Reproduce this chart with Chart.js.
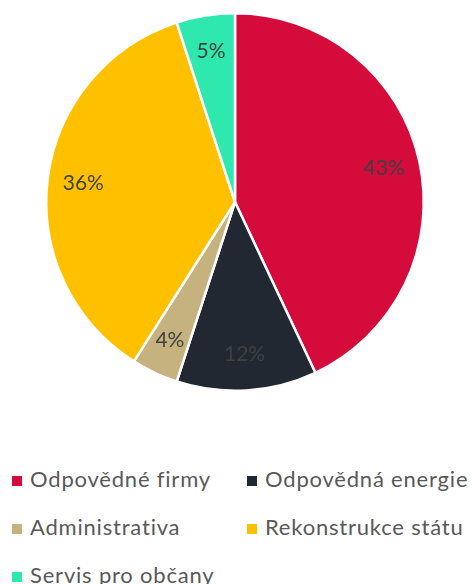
<!DOCTYPE html>
<html>
<head>
<meta charset="utf-8">
<script src="https://cdn.jsdelivr.net/npm/chart.js@4/dist/chart.umd.min.js"></script>
<style>
    body { margin: 0; background: #ffffff; width: 473px; height: 584px; overflow: hidden; position: relative; font-family: Lato, "Open Sans", sans-serif; }
    #wrap { position: absolute; left: 0; top: 0; width: 470px; height: 392px; }
    #legend { position: absolute; left: 12px; top: 464px; width: 461px; }
    .item { position: absolute; height: 30px; line-height: 30px; font-size: 22px; letter-spacing: 0.8px; color: #595959; white-space: nowrap; }
    .box { display: inline-block; width: 10px; height: 10px; margin-right: 8px; vertical-align: 1px; }
</style>
</head>
<body>
<div id="wrap"><canvas id="ChartCanvas"></canvas></div>
<div id="legend"></div>
<script>
const labels = ['Odpovědné firmy', 'Odpovědná energie', 'Administrativa', 'Rekonstrukce státu', 'Servis pro občany'];
const values = [43, 12, 4, 36, 5];
const colors = ['#D50B3C', '#222831', '#C5B27E', '#FFC000', '#2EE8AD'];

Initialize();

function Initialize()
{
    const ctx = document.getElementById('ChartCanvas').getContext('2d');

    // Percent labels inside the slices
    const sliceLabels =
    {
        id: 'sliceLabels',
        afterDatasetsDraw(chart)
        {
            const c = chart.ctx;
            const total = values.reduce((a, b) => a + b, 0);
            c.save();
            c.font = '21px Lato, "Open Sans", sans-serif';
            c.fillStyle = '#404040';
            c.textAlign = 'center';
            c.textBaseline = 'middle';
            chart.getDatasetMeta(0).data.forEach((arc, i) =>
            {
                const mid = (arc.startAngle + arc.endAngle) / 2;
                const r = arc.outerRadius * 0.81;
                const pct = Math.round(values[i] / total * 100) + '%';
                c.fillText(pct, arc.x + Math.cos(mid) * r, arc.y + Math.sin(mid) * r);
            });
            c.restore();
        }
    };

    new Chart(ctx,
    {
        type: 'pie',
        data:
        {
            labels: labels,
            datasets:
            [
                {
                    data: values,
                    backgroundColor: colors,
                    borderColor: '#ffffff',
                    borderWidth: 2.5
                }
            ]
        },
        options:
        {
            responsive: true,
            maintainAspectRatio: false,
            animation: false,
            layout: { padding: { top: 12, bottom: 0 } },
            plugins:
            {
                legend: { display: false },
                tooltip: { enabled: false }
            }
        },
        plugins: [sliceLabels]
    });

    // Legend in two columns
    const legend = document.getElementById('legend');
    labels.forEach((label, i) =>
    {
        const el = document.createElement('div');
        el.className = 'item';
        el.style.left = (i % 2 === 0 ? 0 : 235) + 'px';
        el.style.top = (Math.floor(i / 2) * 48) + 'px';
        el.innerHTML = '<span class="box" style="background:' + colors[i] + '"></span>' + label;
        legend.appendChild(el);
    });
}
</script>
</body>
</html>
